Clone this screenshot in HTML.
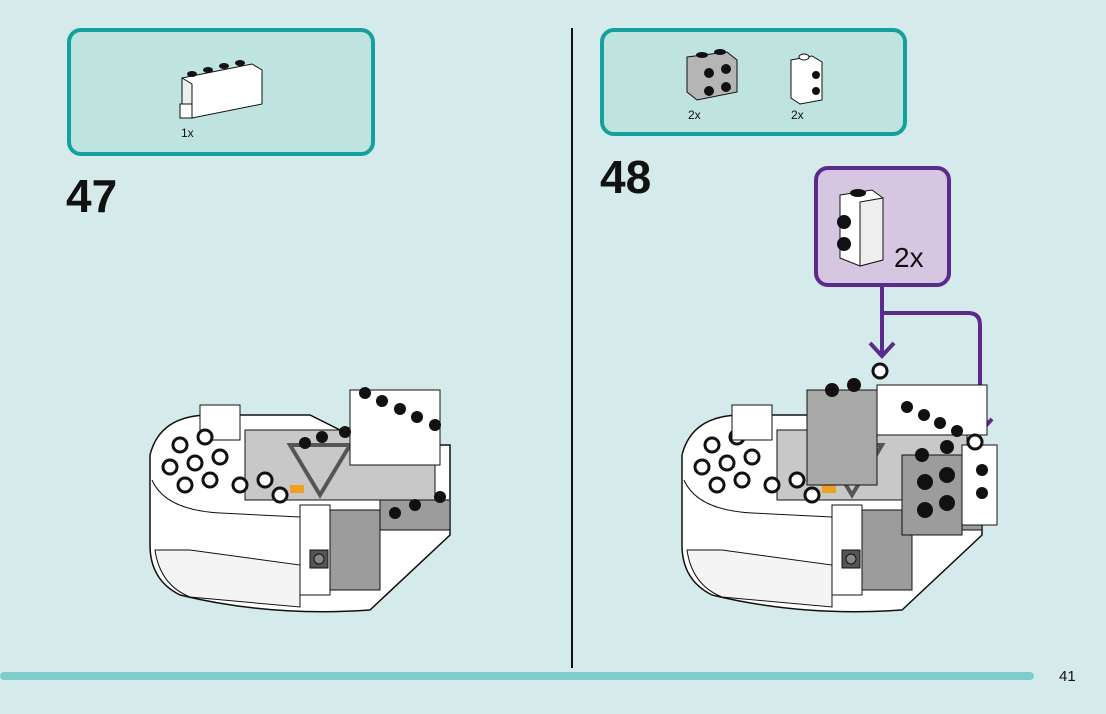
<!DOCTYPE html>
<html><head><style>
html,body{margin:0;padding:0;background:#d5eaea;}
body{width:1106px;height:709px;overflow:hidden;position:relative;font-family:"Liberation Sans",sans-serif;}
</style></head><body>
<svg width="1106" height="709" viewBox="0 0 1106 709" xmlns="http://www.w3.org/2000/svg" font-family="Liberation Sans, sans-serif">
<rect width="1106" height="709" fill="#d5eaea"/>
<line x1="572" y1="28" x2="572" y2="668" stroke="#111" stroke-width="2"/>
<rect x="0" y="672" width="1034" height="8" rx="4" fill="#7fcdcb"/>
<text x="1059" y="681" font-size="15" fill="#111">41</text>

<!-- parts box 47 -->
<rect x="69" y="30" width="304" height="124" rx="12" fill="#bfe3de" stroke="#15a19b" stroke-width="4"/>
<g stroke="#111" stroke-width="1">
<polygon points="182,78 252,64 262,70 262,104 192,118 182,112" fill="#fff"/>
<polygon points="182,78 192,84 192,118 182,112" fill="#eee"/>
<rect x="180" y="104" width="12" height="14" fill="#fff"/>
</g>
<g fill="#111"><ellipse cx="192" cy="74" rx="5" ry="3"/><ellipse cx="208" cy="70" rx="5" ry="3"/><ellipse cx="224" cy="66" rx="5" ry="3"/><ellipse cx="240" cy="63" rx="5" ry="3"/></g>
<text x="181" y="137" font-size="12" fill="#111">1x</text>
<text x="66" y="212" font-size="46" font-weight="bold" fill="#111">47</text>

<!-- parts box 48 -->
<rect x="602" y="30" width="303" height="104" rx="12" fill="#bfe3de" stroke="#15a19b" stroke-width="4"/>
<polygon points="687,57 727,52 737,60 737,92 697,100 687,92" fill="#b5b5b5" stroke="#111"/>
<g fill="#111"><circle cx="709" cy="73" r="5"/><circle cx="726" cy="69" r="5"/><circle cx="709" cy="91" r="5"/><circle cx="726" cy="87" r="5"/><ellipse cx="702" cy="55" rx="6" ry="3"/><ellipse cx="720" cy="52" rx="6" ry="3"/></g>
<polygon points="791,60 812,56 822,62 822,100 800,104 791,98" fill="#fff" stroke="#111"/>
<g fill="#111"><circle cx="816" cy="75" r="4"/><circle cx="816" cy="91" r="4"/></g>
<ellipse cx="804" cy="57" rx="5" ry="3" fill="#fff" stroke="#111"/>
<text x="688" y="119" font-size="12" fill="#111">2x</text>
<text x="791" y="119" font-size="12" fill="#111">2x</text>
<text x="600" y="193" font-size="46" font-weight="bold" fill="#111">48</text>

<!-- purple callout -->
<rect x="816" y="168" width="133" height="117" rx="12" fill="#d6c6e2" stroke="#5a2b8c" stroke-width="4"/>
<polygon points="840,195 872,190 883,198 883,260 860,266 840,258" fill="#fff" stroke="#111"/>
<polygon points="860,202 883,198 883,260 860,266" fill="#eee" stroke="#111"/>
<ellipse cx="858" cy="193" rx="8" ry="4" fill="#111"/>
<circle cx="844" cy="222" r="7" fill="#111"/><circle cx="844" cy="244" r="7" fill="#111"/>
<text x="894" y="267" font-size="28" fill="#111">2x</text>
<g fill="none" stroke="#5a2b8c" stroke-width="4">
<line x1="882" y1="287" x2="882" y2="354"/>
<path d="M882 313 H968 Q980 313 980 325 V430"/>
<path d="M870 343 L882 356 L894 343"/>
<path d="M968 419 L980 432 L992 419"/>
</g>

<!-- model template -->
<defs>
<g id="m">
<path d="M0 70 Q10 30 60 30 L160 30 L220 60 L300 60 L300 150 L220 225 Q120 232 30 210 Q0 195 0 160 Z" fill="#fff" stroke="#111" stroke-width="1.5"/>
<path d="M2 95 Q15 125 70 128 L150 132" fill="none" stroke="#111"/>
<path d="M5 165 Q10 200 40 212 L150 222 L150 180 L40 165 Z" fill="#f4f4f4" stroke="#111"/>
<rect x="150" y="120" width="30" height="90" fill="#fff" stroke="#111"/>
<rect x="180" y="125" width="50" height="80" fill="#9c9c9c" stroke="#111"/>
<rect x="230" y="115" width="70" height="30" fill="#9c9c9c" stroke="#111"/>
<rect x="95" y="45" width="190" height="70" fill="#c8c8c8" stroke="#111"/>
<polygon points="140,60 170,110 200,60" fill="none" stroke="#555" stroke-width="4"/>
<rect x="140" y="100" width="14" height="8" fill="#f0a020"/>
<rect x="160" y="165" width="18" height="18" fill="#555" stroke="#111"/>
<circle cx="169" cy="174" r="5" fill="#888" stroke="#111"/>
</g>
</defs>

<!-- left model -->
<g transform="translate(150,385)">
<use href="#m"/>
<rect x="200" y="5" width="90" height="75" fill="#fff" stroke="#111"/>
<g fill="#111"><circle cx="215" cy="8" r="6"/><circle cx="232" cy="16" r="6"/><circle cx="250" cy="24" r="6"/><circle cx="267" cy="32" r="6"/><circle cx="285" cy="40" r="6"/><circle cx="155" cy="58" r="6"/><circle cx="172" cy="52" r="6"/><circle cx="195" cy="47" r="6"/><circle cx="290" cy="112" r="6"/><circle cx="265" cy="120" r="6"/><circle cx="245" cy="128" r="6"/></g>
<rect x="50" y="20" width="40" height="35" fill="#fff" stroke="#111"/>
<g fill="#fff" stroke="#111" stroke-width="3"><circle cx="30" cy="60" r="7"/><circle cx="55" cy="52" r="7"/><circle cx="20" cy="82" r="7"/><circle cx="45" cy="78" r="7"/><circle cx="70" cy="72" r="7"/><circle cx="35" cy="100" r="7"/><circle cx="60" cy="95" r="7"/><circle cx="90" cy="100" r="7"/><circle cx="115" cy="95" r="7"/><circle cx="130" cy="110" r="7"/></g>
</g>

<!-- right model -->
<g transform="translate(682,385)">
<use href="#m"/>
<rect x="125" y="5" width="70" height="95" fill="#a8a8a8" stroke="#111"/>
<rect x="195" y="0" width="110" height="50" fill="#fff" stroke="#111"/>
<rect x="220" y="70" width="60" height="80" fill="#9c9c9c" stroke="#111"/>
<rect x="280" y="60" width="35" height="80" fill="#fff" stroke="#111"/>
<g fill="#111"><circle cx="243" cy="97" r="8"/><circle cx="265" cy="90" r="8"/><circle cx="243" cy="125" r="8"/><circle cx="265" cy="118" r="8"/><circle cx="300" cy="85" r="6"/><circle cx="300" cy="108" r="6"/><circle cx="225" cy="22" r="6"/><circle cx="242" cy="30" r="6"/><circle cx="258" cy="38" r="6"/><circle cx="275" cy="46" r="6"/><circle cx="150" cy="5" r="7"/><circle cx="172" cy="0" r="7"/><circle cx="240" cy="70" r="7"/><circle cx="265" cy="62" r="7"/></g>
<g fill="#fff" stroke="#111" stroke-width="3"><circle cx="198" cy="-14" r="7"/><circle cx="293" cy="57" r="7"/><circle cx="30" cy="60" r="7"/><circle cx="55" cy="52" r="7"/><circle cx="20" cy="82" r="7"/><circle cx="45" cy="78" r="7"/><circle cx="70" cy="72" r="7"/><circle cx="35" cy="100" r="7"/><circle cx="60" cy="95" r="7"/><circle cx="90" cy="100" r="7"/><circle cx="115" cy="95" r="7"/><circle cx="130" cy="110" r="7"/></g>
<rect x="50" y="20" width="40" height="35" fill="#fff" stroke="#111"/>
</g>
</svg>
</body></html>
